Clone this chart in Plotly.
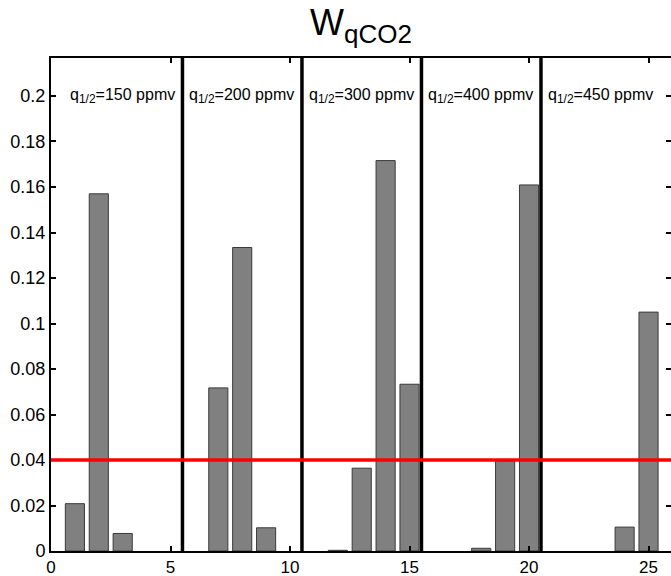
import plotly.graph_objects as go

# Data
bar_x = list(range(1, 26))
bar_vals = [0.0208, 0.157, 0.0077, 0.0, 0.0,
            0.0, 0.0717, 0.1334, 0.0102, 0.0,
            0.0, 0.0003, 0.0364, 0.1716, 0.0733,
            0.0, 0.0, 0.0012, 0.0395, 0.1609,
            0.0, 0.0, 0.0, 0.0105, 0.105]
threshold = 0.04
separators = [5.5, 10.5, 15.5, 20.5]
panel_labels = ["150", "200", "300", "400", "450"]
panel_starts = [0.5, 5.5, 10.5, 15.5, 20.5]
y_ticks = [0, 0.02, 0.04, 0.06, 0.08, 0.1, 0.12, 0.14, 0.16, 0.18, 0.2]
y_ticktext = ["0", "0.02", "0.04", "0.06", "0.08", "0.1", "0.12", "0.14", "0.16", "0.18", "0.2"]
x_ticks = [0, 5, 10, 15, 20, 25]

X_RANGE = [0, 25.94]
Y_RANGE = [0, 0.2167]
FONT = "Liberation Sans, Arial, Helvetica, sans-serif"

edge_widths = [1 if v > 0 else 0 for v in bar_vals]

fig = go.Figure()
fig.add_trace(go.Bar(
    x=bar_x, y=bar_vals, width=0.8,
    marker=dict(color="#808080", line=dict(color="#3a3a3a", width=edge_widths)),
    showlegend=False, hoverinfo="x+y",
))
# dummy trace for right-side tick axis
fig.add_trace(go.Scatter(x=[None], y=[None], yaxis="y2", showlegend=False))

for s in separators:
    fig.add_shape(type="line", x0=s, x1=s, y0=0, y1=1, xref="x", yref="paper",
                  line=dict(color="black", width=3.5), layer="above")
fig.add_shape(type="line", x0=0, x1=1, y0=threshold, y1=threshold, xref="paper", yref="y",
              line=dict(color="#ff0000", width=3.5), layer="above")

for st, lab in zip(panel_starts, panel_labels):
    fig.add_annotation(x=st + 0.2, y=0.2, xref="x", yref="y",
                       text=f"q<sub><span style='font-size:12px'>1/2</span></sub>={lab} ppmv",
                       showarrow=False, xanchor="left", yanchor="middle",
                       font=dict(family=FONT, size=16, color="black"))

fig.update_layout(
    width=671, height=576,
    margin=dict(l=51, r=0, t=58, b=25, autoexpand=False),
    paper_bgcolor="white", plot_bgcolor="white",
    font=dict(family=FONT, size=18, color="black"),
    bargap=0.2,
    title=dict(text="W<sub><span style='font-size:26px'>qCO2</span></sub>",
               x=0.5, xref="paper", xanchor="center",
               y=1, yref="container", yanchor="top", pad=dict(t=10),
               font=dict(family=FONT, size=36, color="black"),
               automargin=False),
    xaxis=dict(range=X_RANGE, tickvals=x_ticks, ticks="inside", ticklen=5, tickwidth=2,
               tickcolor="black", showline=True, linecolor="black", linewidth=2,
               mirror="ticks", showgrid=False, zeroline=False, automargin=False,
               tickfont=dict(family=FONT, size=17)),
    yaxis=dict(range=Y_RANGE, tickvals=y_ticks, ticktext=y_ticktext, ticks="inside",
               ticklen=5, tickwidth=2, tickcolor="black", showline=True,
               linecolor="black", linewidth=2, showgrid=False, zeroline=False,
               automargin=False, tickfont=dict(family=FONT, size=18)),
    yaxis2=dict(range=Y_RANGE, overlaying="y", side="right", tickvals=y_ticks,
                ticks="inside", ticklen=5, tickwidth=2, tickcolor="black",
                showticklabels=False, showline=False, showgrid=False, zeroline=False,
                automargin=False),
)

fig.write_html("out.html")
